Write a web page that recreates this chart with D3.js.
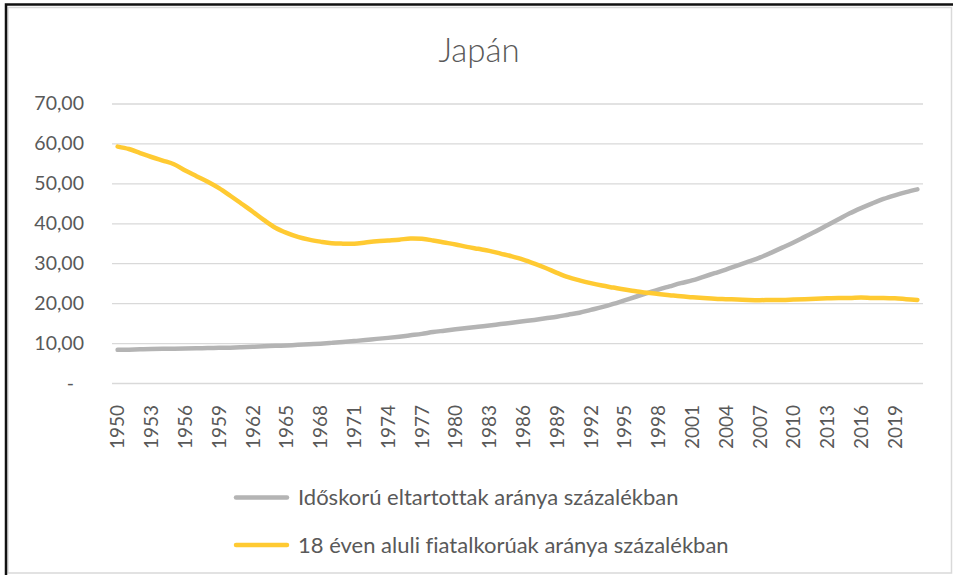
<!DOCTYPE html>
<html>
<head>
<meta charset="utf-8">
<script src="https://cdn.jsdelivr.net/npm/d3@7"></script>
<style>
  body { margin: 0; background: #fff; }
  text { font-family: Lato, "Noto Sans", sans-serif; fill: #595959; font-variant-ligatures: none; }
</style>
</head>
<body>
<div class="container"></div>
<script>
// adatok: Japán, 1950-2021
const evek = d3.range(1950, 2022)
const idoskoru = [8.3, 8.35, 8.45, 8.5, 8.55, 8.6, 8.65, 8.7, 8.75, 8.8,
    8.85, 8.95, 9.05, 9.2, 9.3, 9.4, 9.55, 9.7, 9.85, 10.05,
    10.25, 10.5, 10.75, 11.05, 11.3, 11.6, 11.95, 12.3, 12.75, 13.1,
    13.45, 13.8, 14.1, 14.4, 14.75, 15.1, 15.45, 15.8, 16.2, 16.6,
    17.1, 17.6, 18.3, 19.0, 19.8, 20.7, 21.6, 22.5, 23.4, 24.2,
    25.0, 25.7, 26.6, 27.5, 28.4, 29.4, 30.4, 31.4, 32.6, 33.9,
    35.2, 36.6, 38.0, 39.5, 41.0, 42.5, 43.8, 45.0, 46.1, 47.0,
    47.8, 48.5]
const fiatal = [59.2, 58.6, 57.6, 56.6, 55.7, 54.8, 53.2, 51.8, 50.4, 48.8,
    46.9, 44.9, 42.9, 40.8, 38.9, 37.6, 36.6, 35.9, 35.4, 35.0,
    34.9, 34.9, 35.2, 35.5, 35.7, 35.9, 36.2, 36.1, 35.7, 35.2,
    34.7, 34.1, 33.6, 33.1, 32.4, 31.7, 30.9, 29.9, 28.8, 27.6,
    26.5, 25.7, 25.0, 24.4, 23.9, 23.4, 23.0, 22.6, 22.3, 22.0,
    21.7, 21.5, 21.3, 21.1, 21.0, 20.9, 20.8, 20.75, 20.8, 20.8,
    20.9, 21.0, 21.1, 21.2, 21.3, 21.3, 21.4, 21.3, 21.3, 21.2,
    21.0, 20.8]
const yTicks = [0, 10, 20, 30, 40, 50, 60, 70]
const xTicks = evek.filter((d) => (d - 1950) % 3 === 0)
const sorozatNevek = ["Időskorú eltartottak aránya százalékban",
    "18 éven aluli fiatalkorúak aránya százalékban"]
const szinek = ["#b4b4b4", "#ffca32"]

const size = {WIDTH: 953, HEIGHT: 575}
const plot = {left: 112, right: 923, top: 103.5, bottom: 383}

const svg = d3.select(".container")
    .append("svg")
    .attr("width", size.WIDTH)
    .attr("height", size.HEIGHT)

// keret
svg.append("rect")
    .attr("x", 8).attr("y", 7.5)
    .attr("width", 943.5).attr("height", 565.5)
    .attr("fill", "white")
    .attr("stroke", "#d9d9d9")
    .attr("stroke-width", 1.5)
svg.append("path")
    .attr("d", "M6,575 V4.5 H953")
    .attr("fill", "none")
    .attr("stroke", "#111")
    .attr("stroke-width", 2.5)

svg.append("text")
    .text("Japán")
    .attr("x", 479)
    .attr("y", 62)
    .attr("text-anchor", "middle")
    .attr("font-size", "33px")
    .attr("font-weight", 300)

const x = d3.scaleBand()
    .domain(evek)
    .range([plot.left, plot.right])
const xc = (d) => x(d) + x.bandwidth() / 2

const y = d3.scaleLinear()
    .domain([0, 70])
    .range([plot.bottom, plot.top])

const yAxis = svg.append("g")
    .attr("transform", `translate(${plot.left},0)`)
    .call(d3.axisLeft(y)
        .tickValues(yTicks)
        .tickSize(-(plot.right - plot.left))
        .tickPadding(28)
        .tickFormat((d) => d === 0 ? "-" : d3.format(".2f")(d).replace(".", ",")))
yAxis.select(".domain").remove()
yAxis.selectAll("line")
    .attr("stroke", "#d9d9d9")
    .attr("stroke-width", 1.3)
yAxis.selectAll("text")
    .attr("font-size", "19.5px")
    .attr("font-family", null)
    .attr("fill", null)
    .attr("x", (d) => d === 0 ? -38 : -28)

const xAxis = svg.append("g")
    .attr("transform", `translate(0,${plot.bottom})`)
    .call(d3.axisBottom(x).tickValues(xTicks).tickSize(0))
xAxis.select(".domain").remove()
xAxis.selectAll("text")
    .attr("font-size", "19px")
    .attr("font-family", null)
    .attr("fill", null)
    .attr("text-anchor", "end")
    .attr("transform", "rotate(-90)")
    .attr("x", -22)
    .attr("y", 0)
    .attr("dy", "0.36em")

const vonal = d3.line()
    .x((d, i) => xc(evek[i]))
    .y((d) => y(d))
    .curve(d3.curveCatmullRom.alpha(0.5))

svg.selectAll(".sorozat")
    .data([idoskoru, fiatal])
    .join("path")
    .attr("class", "sorozat")
    .attr("d", (d) => vonal(d))
    .attr("fill", "none")
    .attr("stroke", (_, i) => szinek[i])
    .attr("stroke-width", 4.5)
    .attr("stroke-linecap", "round")
    .attr("stroke-linejoin", "round")

// jelmagyarázat
const legendY = [497.5, 545]
const legend = svg.selectAll(".jelmagyarazat")
    .data(sorozatNevek)
    .join("g")
    .attr("class", "jelmagyarazat")
    .attr("transform", (_, i) => `translate(0,${legendY[i]})`)
legend.append("line")
    .attr("x1", 236).attr("x2", 287)
    .attr("stroke", (_, i) => szinek[i])
    .attr("stroke-width", 4.5)
    .attr("stroke-linecap", "round")
legend.append("text")
    .text((d) => d)
    .attr("x", 298)
    .attr("dy", "0.36em")
    .attr("font-size", "22px")
</script>
</body>
</html>
